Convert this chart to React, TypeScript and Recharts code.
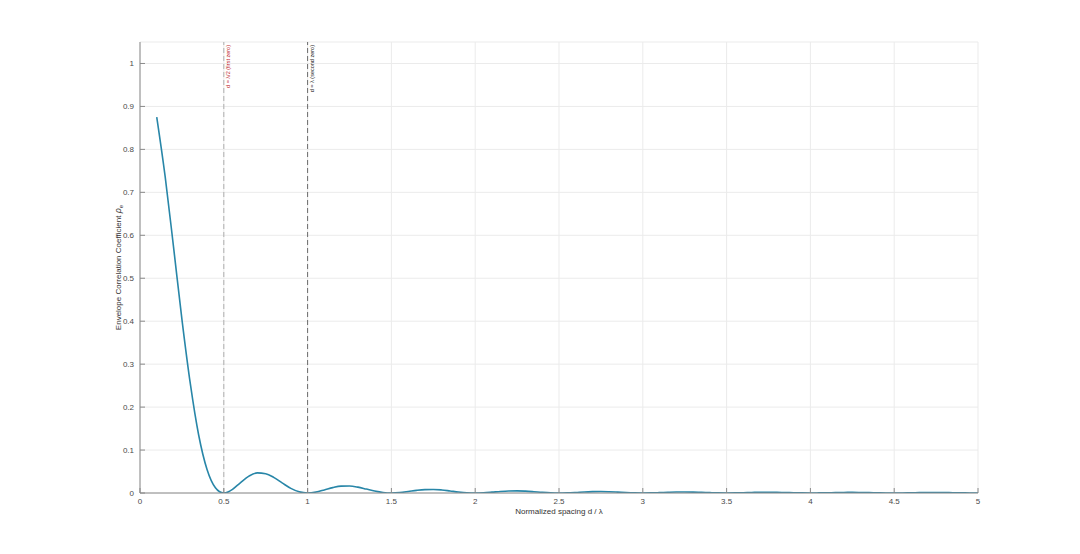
import React from "react";
import {
  LineChart,
  Line,
  XAxis,
  YAxis,
  CartesianGrid,
  ReferenceLine,
} from "recharts";

const spacing = [
  0.1, 0.15, 0.2, 0.25, 0.3, 0.35, 0.4, 0.45, 0.475, 0.5, 0.525, 0.55, 0.6,
  0.65, 0.7, 0.75, 0.8, 0.85, 0.9, 0.95, 1.0, 1.05, 1.1, 1.15, 1.2, 1.25, 1.3,
  1.35, 1.4, 1.45, 1.5, 1.55, 1.6, 1.65, 1.7, 1.75, 1.8, 1.85, 1.9, 1.95, 2.0,
  2.05, 2.1, 2.15, 2.2, 2.25, 2.3, 2.35, 2.4, 2.45, 2.5, 2.55, 2.6, 2.65, 2.7,
  2.75, 2.8, 2.85, 2.9, 2.95, 3.0, 3.05, 3.1, 3.15, 3.2, 3.25, 3.3, 3.35, 3.4,
  3.45, 3.5, 3.55, 3.6, 3.65, 3.7, 3.75, 3.8, 3.85, 3.9, 3.95, 4.0, 4.05, 4.1,
  4.15, 4.2, 4.25, 4.3, 4.35, 4.4, 4.45, 4.5, 4.55, 4.6, 4.65, 4.7, 4.75, 4.8,
  4.85, 4.9, 4.95, 5.0,
];

const ecc = [
  0.875, 0.737, 0.573, 0.405, 0.255, 0.135, 0.0547, 0.012, 0.0028, 0.0,
  0.0023, 0.008, 0.0243, 0.0392, 0.0468, 0.045, 0.0358, 0.0229, 0.0108,
  0.0027, 0.0, 0.0022, 0.0072, 0.0125, 0.0159, 0.0162, 0.0136, 0.0091, 0.0045,
  0.0012, 0.0, 0.001, 0.0034, 0.0061, 0.0079, 0.0083, 0.0071, 0.0048, 0.0024,
  0.0006, 0.0, 0.0006, 0.002, 0.0036, 0.0047, 0.005, 0.0043, 0.003, 0.0015,
  0.0004, 0.0, 0.0004, 0.0013, 0.0024, 0.0031, 0.0034, 0.0029, 0.002, 0.001,
  0.0003, 0.0, 0.0003, 0.0009, 0.0017, 0.0022, 0.0024, 0.0021, 0.0015, 0.0008,
  0.0002, 0.0, 0.0002, 0.0007, 0.0012, 0.0017, 0.0018, 0.0016, 0.0011, 0.0006,
  0.0002, 0.0, 0.0002, 0.0005, 0.001, 0.0013, 0.0014, 0.0012, 0.0009, 0.0005,
  0.0001, 0.0, 0.0001, 0.0004, 0.0008, 0.001, 0.0011, 0.001, 0.0007, 0.0004,
  0.0001, 0.0,
];

const xTicks = [0, 0.5, 1, 1.5, 2, 2.5, 3, 3.5, 4, 4.5, 5];
const xTickLabels = ["0", "0.5", "1", "1.5", "2", "2.5", "3", "3.5", "4", "4.5", "5"];
const yTicks = [0, 0.1, 0.2, 0.3, 0.4, 0.5, 0.6, 0.7, 0.8, 0.9, 1];
const yTickLabels = ["0", "0.1", "0.2", "0.3", "0.4", "0.5", "0.6", "0.7", "0.8", "0.9", "1"];

const titleText = "ECC vs. Antenna Spacing (Two Isotropic Point Sources)";
const xLabelText = "Normalized spacing  d / \u03bb";
const yLabelText = "Envelope Correlation Coefficient  ";
const firstZeroText = "d = \u03bb/2 (first zero)";
const secondZeroText = "d = \u03bb (second zero)";

const data = spacing.map((d, i) => ({ d, ecc: ecc[i] }));

const FONT = "'Liberation Sans', Arial, Helvetica, sans-serif";
const AXIS = "#8a8a8a";
const TEXT = "#4a4a4a";
const TICK = 5;

const labelFor = (v: number, ticks: number[], labels: string[]) => {
  const i = ticks.findIndex((t) => Math.abs(t - v) < 1e-9);
  return i >= 0 ? labels[i] : String(v);
};

const BottomTick = (props: any) => {
  const { x, y, payload } = props;
  return (
    <g>
      <line x1={x} x2={x} y1={y} y2={y - TICK} stroke={AXIS} strokeWidth={1} />
      <text x={x} y={y + 11} textAnchor="middle" fontSize={8} fill={TEXT} fontFamily={FONT}>
        {labelFor(payload.value, xTicks, xTickLabels)}
      </text>
    </g>
  );
};

const TopTick = (props: any) => {
  const { x, y } = props;
  return <line x1={x} x2={x} y1={y} y2={y + TICK} stroke={AXIS} strokeWidth={1} />;
};

const LeftTick = (props: any) => {
  const { x, y, payload } = props;
  return (
    <g>
      <line x1={x} x2={x + TICK} y1={y} y2={y} stroke={AXIS} strokeWidth={1} />
      <text x={x - 6} y={y + 3} textAnchor="end" fontSize={8} fill={TEXT} fontFamily={FONT}>
        {labelFor(payload.value, yTicks, yTickLabels)}
      </text>
    </g>
  );
};

const RightTick = (props: any) => {
  const { x, y } = props;
  return <line x1={x} x2={x - TICK} y1={y} y2={y} stroke={AXIS} strokeWidth={1} />;
};

const TitleLabel = (props: any) => {
  const vb = props.viewBox || {};
  return (
    <text
      x={vb.x + vb.width / 2}
      y={vb.y - 4}
      textAnchor="middle"
      fontSize={8}
      fill="#222"
      fontFamily={FONT}
    >
      {titleText}
    </text>
  );
};

const XLabel = (props: any) => {
  const vb = props.viewBox || {};
  return (
    <text
      x={vb.x + vb.width / 2}
      y={vb.y + 21}
      textAnchor="middle"
      fontSize={8}
      fill="#333"
      fontFamily={FONT}
    >
      {xLabelText}
    </text>
  );
};

const YLabel = (props: any) => {
  const vb = props.viewBox || {};
  const cx = vb.x + 121;
  const cy = vb.y + vb.height / 2;
  return (
    <text
      x={cx}
      y={cy}
      textAnchor="middle"
      fontSize={8}
      fill="#333"
      fontFamily={FONT}
      transform={`rotate(-90, ${cx}, ${cy})`}
    >
      {yLabelText}
      <tspan fontStyle="italic" fontSize={9}>{"\u03c1"}</tspan>
      <tspan fontSize={6} dy={2}>e</tspan>
    </text>
  );
};

const makeRefLabel = (text: string, color: string) => (props: any) => {
  const vb = props.viewBox || {};
  const px = vb.x + 6;
  const py = vb.y + 3;
  return (
    <text
      x={px}
      y={py}
      textAnchor="end"
      fontSize={5.5}
      fill={color}
      fontFamily={FONT}
      transform={`rotate(-90, ${px}, ${py})`}
    >
      {text}
    </text>
  );
};

const FirstZeroLabel = makeRefLabel(firstZeroText, "#c0282d");
const SecondZeroLabel = makeRefLabel(secondZeroText, "#222");

export default function App() {
  return (
    <div style={{ position: "absolute", left: 0, top: 0, width: 1080, height: 554, background: "#fff" }}>
      <LineChart
        width={1080}
        height={554}
        data={data}
        margin={{ top: 42, right: 102, bottom: 0, left: 0 }}
      >
        <CartesianGrid stroke="#ebebeb" strokeWidth={1} />
        <XAxis
          type="number"
          dataKey="d"
          domain={[0, 5]}
          ticks={xTicks}
          interval={0}
          height={61}
          tickSize={0}
          tickMargin={0}
          tickLine={false}
          axisLine={{ stroke: AXIS }}
          tick={<BottomTick />}
          label={<XLabel />}
          allowDataOverflow
        />
        <XAxis
          xAxisId="top"
          orientation="top"
          type="number"
          dataKey="d"
          domain={[0, 5]}
          ticks={xTicks}
          interval={0}
          height={0}
          tickSize={0}
          tickMargin={0}
          tickLine={false}
          axisLine={{ stroke: AXIS }}
          tick={<TopTick />}
          label={<TitleLabel />}
          allowDataOverflow
        />
        <YAxis
          type="number"
          domain={[0, 1.05]}
          ticks={yTicks}
          interval={0}
          width={140}
          tickSize={0}
          tickMargin={0}
          tickLine={false}
          axisLine={{ stroke: AXIS }}
          tick={<LeftTick />}
          label={<YLabel />}
          allowDataOverflow
        />
        <YAxis
          yAxisId="right"
          orientation="right"
          type="number"
          domain={[0, 1.05]}
          ticks={yTicks}
          interval={0}
          width={0}
          tickSize={0}
          tickMargin={0}
          tickLine={false}
          axisLine={{ stroke: AXIS }}
          tick={<RightTick />}
          allowDataOverflow
        />
        <ReferenceLine
          x={0.5}
          stroke="#b0b0b0"
          strokeDasharray="5 3"
          strokeWidth={1}
          label={<FirstZeroLabel />}
        />
        <ReferenceLine
          x={1}
          stroke="#6a6a6a"
          strokeDasharray="5 3"
          strokeWidth={1}
          label={<SecondZeroLabel />}
        />
        <Line
          type="monotone"
          dataKey="ecc"
          stroke="#2886a8"
          strokeWidth={1.6}
          dot={false}
          activeDot={false}
          isAnimationActive={false}
        />
      </LineChart>
    </div>
  );
}
